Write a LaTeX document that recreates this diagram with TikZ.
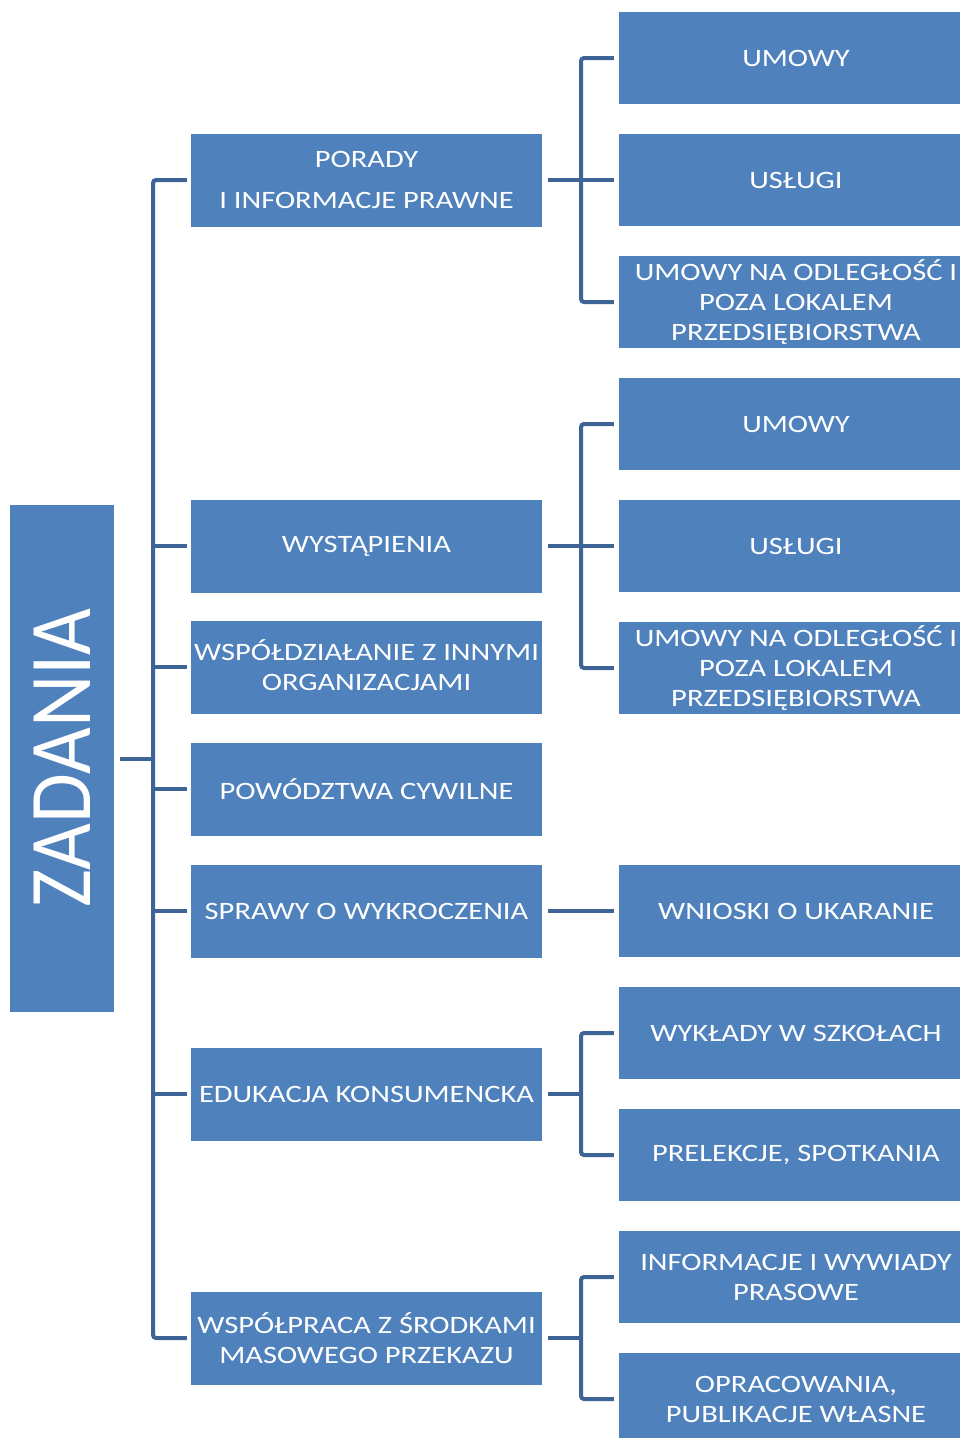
\documentclass[tikz,border=0pt]{standalone}
\usepackage{fontspec}
\setmainfont[FakeStretch=1.22]{Carlito}
\newfontfamily\zadfont[FakeStretch=0.92]{Carlito}
\definecolor{boxblue}{RGB}{79,129,189}
\definecolor{lineblue}{RGB}{62,100,150}
\begin{document}
\begin{tikzpicture}[x=1pt,y=-1pt,
  box/.style={fill=boxblue, text=white, inner sep=0pt, font=\fontsize{25}{30}\selectfont, align=center},
  mid/.style={box, minimum width=351pt, minimum height=93pt},
  leaf/.style={box, minimum width=354pt, minimum height=92pt},
  conn/.style={draw=lineblue, line width=4pt, rounded corners=3pt}]
\clip (0,0) rectangle (960,1438);
% root
\node[fill=boxblue, inner sep=0pt, minimum width=104pt, minimum height=507pt] (zad) at (62,758.5) {};
\node[rotate=90, anchor=base, text=white, inner sep=0pt, font=\zadfont\fontsize{88}{88}\selectfont] (zadt) at (90,758) {ZADANIA};
% middle column
\node[mid] (p1) at (366.5,180) {PORADY\\[11pt]I INFORMACJE PRAWNE};
\node[mid] (p2) at (366.5,546) {WYSTĄPIENIA};
\node[mid, text depth=4pt] (p3) at (366.5,667) {WSPÓŁDZIAŁANIE Z INNYMI\\ORGANIZACJAMI};
\node[mid] (p4) at (366.5,789) {POWÓDZTWA CYWILNE};
\node[mid] (p5) at (366.5,911) {SPRAWY O WYKROCZENIA};
\node[mid] (p6) at (366.5,1094) {EDUKACJA KONSUMENCKA};
\node[mid] (p7) at (366.5,1338) {WSPÓŁPRACA Z ŚRODKAMI\\MASOWEGO PRZEKAZU};
% right column
\node[leaf] (a1) at (796,58) {UMOWY};
\node[leaf] (a2) at (796,180) {USŁUGI};
\node[leaf] (a3) at (796,302) {UMOWY NA ODLEGŁOŚĆ I\\POZA LOKALEM\\PRZEDSIĘBIORSTWA};
\node[leaf] (b1) at (796,424) {UMOWY};
\node[leaf] (b2) at (796,546) {USŁUGI};
\node[leaf] (b3) at (796,668) {UMOWY NA ODLEGŁOŚĆ I\\POZA LOKALEM\\PRZEDSIĘBIORSTWA};
\node[leaf] (c1) at (796,911) {WNIOSKI O UKARANIE};
\node[leaf] (d1) at (796,1033) {WYKŁADY W SZKOŁACH};
\node[leaf] (d2) at (796,1155) {PRELEKCJE, SPOTKANIA};
\node[leaf] (e1) at (796,1277) {INFORMACJE I WYWIADY\\PRASOWE};
\node[leaf] (e2) at (796,1399) {OPRACOWANIA,\\PUBLIKACJE WŁASNE};
% text positions fine-tuned
% trunk connectors
\coordinate (tr) at (153,0);
\coordinate (rt) at (581,0);
\draw[conn] ([xshift=6pt]zad.east) -- (zad.east -| tr);
\draw[conn] ([xshift=-4pt]p1.west) -- (p1.west -| tr) -- (p7.west -| tr) -- ([xshift=-4pt]p7.west);
\foreach \p in {p2,p3,p4,p5,p6} {\draw[conn] (\p.west -| tr) -- ([xshift=-4pt]\p.west);}
% right connectors
\draw[conn] ([xshift=6pt]p1.east) -- (p1.east -| rt);
\draw[conn] ([xshift=-5pt]a1.west) -- (a1.west -| rt) -- (a3.west -| rt) -- ([xshift=-5pt]a3.west);
\draw[conn] (a2.west -| rt) -- ([xshift=-5pt]a2.west);
\draw[conn] ([xshift=6pt]p2.east) -- (p2.east -| rt);
\draw[conn] ([xshift=-5pt]b1.west) -- (b1.west -| rt) -- (b3.west -| rt) -- ([xshift=-5pt]b3.west);
\draw[conn] (b2.west -| rt) -- ([xshift=-5pt]b2.west);
\draw[conn] ([xshift=6pt]p5.east) -- ([xshift=-5pt]c1.west);
\draw[conn] ([xshift=6pt]p6.east) -- (p6.east -| rt);
\draw[conn] ([xshift=-5pt]d1.west) -- (d1.west -| rt) -- (d2.west -| rt) -- ([xshift=-5pt]d2.west);
\draw[conn] ([xshift=6pt]p7.east) -- (p7.east -| rt);
\draw[conn] ([xshift=-5pt]e1.west) -- (e1.west -| rt) -- (e2.west -| rt) -- ([xshift=-5pt]e2.west);
\end{tikzpicture}
\end{document}
